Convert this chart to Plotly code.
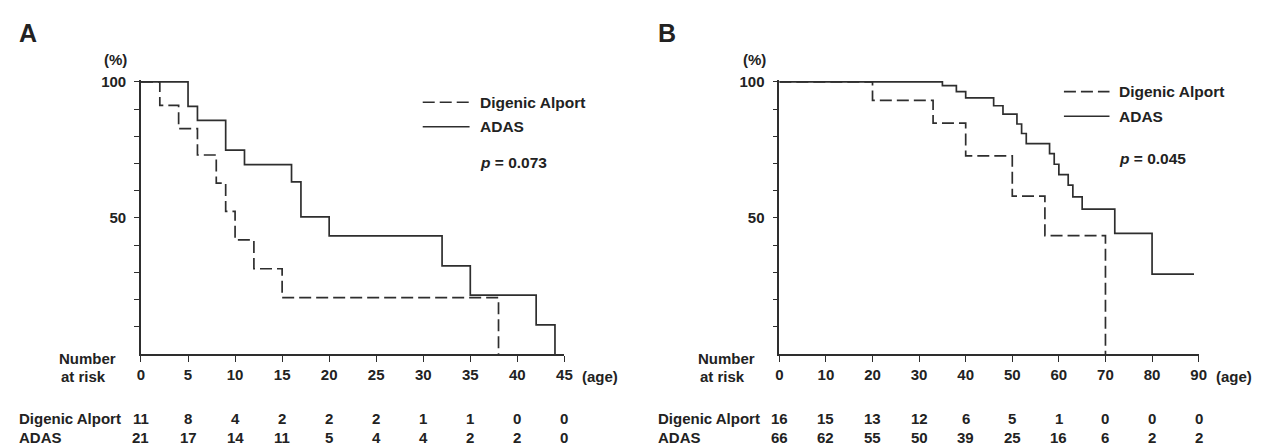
import plotly.graph_objects as go

# ---------------- data ----------------
# Panel A (age 0-45)
a_dig_t = [0, 2, 4, 6, 8, 9, 10, 12, 15, 38, 38]
a_dig_s = [100, 91.3, 82.8, 73.1, 62.8, 52.4, 41.9, 31.3, 20.7, 20.7, 0]
a_adas_t = [0, 5, 6, 9, 11, 16, 17, 20, 32, 35, 42, 44, 44]
a_adas_s = [100, 91.0, 85.8, 74.9, 69.6, 63.2, 50.4, 43.4, 32.4, 21.6, 10.7, 10.7, 0]

# Panel B (age 0-90)
b_dig_t = [0, 20, 33, 40, 50, 57, 70, 70]
b_dig_s = [100, 93.2, 84.8, 72.8, 58.0, 43.5, 43.5, 0]
b_adas_t = [0, 35, 38, 40, 46, 48, 51, 52, 53, 58, 59, 60, 62, 63, 65, 72, 80, 89]
b_adas_s = [100, 98.6, 96.4, 94.1, 91.2, 88.1, 84.5, 81.0, 77.3, 73.6, 69.7, 65.9,
            62.0, 57.7, 53.2, 44.3, 29.3, 29.3]

# Number at risk
a_risk_ticks = [0, 5, 10, 15, 20, 25, 30, 35, 40, 45]
a_risk_dig = [11, 8, 4, 2, 2, 2, 1, 1, 0, 0]
a_risk_adas = [21, 17, 14, 11, 5, 4, 4, 2, 2, 0]
b_risk_ticks = [0, 10, 20, 30, 40, 50, 60, 70, 80, 90]
b_risk_dig = [16, 15, 13, 12, 6, 5, 1, 0, 0, 0]
b_risk_adas = [66, 62, 55, 50, 39, 25, 16, 6, 2, 2]

series_names = ["Digenic Alport", "ADAS"]
p_values = ["0.073", "0.045"]
y_ticks = [10, 20, 30, 40, 50, 60, 70, 80, 90, 100]
y_ticktext = ["", "", "", "", "50", "", "", "", "", "100"]

# ---------------- layout helpers ----------------
W, H = 1275, 445
def px(x):
    return x / W
def py(y):
    return (H - y) / H

LINE = "#2e2e2e"
TXT = "#222222"
FONT = "Liberation Sans, Arial, Helvetica, sans-serif"
FS = 15

fig = go.Figure()

def add_curve(t, s, dash, xa, ya):
    fig.add_trace(go.Scatter(
        x=t, y=s, mode="lines", line_shape="hv",
        line=dict(color=LINE, width=1.7, dash=dash),
        xaxis=xa, yaxis=ya, showlegend=False, hoverinfo="skip"))

DASH = "12px,5px"
add_curve(a_dig_t, a_dig_s, DASH, "x", "y")
add_curve(a_adas_t, a_adas_s, "solid", "x", "y")
add_curve(b_dig_t, b_dig_s, DASH, "x2", "y2")
add_curve(b_adas_t, b_adas_s, "solid", "x2", "y2")

ydom = [py(352.5), py(74.6)]
axis_common = dict(showline=True, linecolor=LINE, linewidth=1.6, showgrid=False,
                   zeroline=False, ticks="outside", tickcolor=LINE, tickwidth=1.4,
                   tickfont=dict(family=FONT, size=FS, color=TXT, weight="bold"))

fig.update_layout(
    width=W, height=H, margin=dict(l=0, r=0, t=0, b=0),
    paper_bgcolor="white", plot_bgcolor="white", showlegend=False,
    xaxis=dict(domain=[px(138.3), px(565.7)], range=[0, 45], tickvals=a_risk_ticks,
               ticklen=6, ticklabelstandoff=0, anchor="y", **axis_common),
    yaxis=dict(domain=ydom, range=[0, 100.5], tickvals=y_ticks, ticktext=y_ticktext,
               ticklen=5, ticklabelstandoff=5, anchor="x", **axis_common),
    xaxis2=dict(domain=[px(782.7), px(1206)], range=[0, 90], tickvals=b_risk_ticks,
                ticklen=6, ticklabelstandoff=0, anchor="y2", **axis_common),
    yaxis2=dict(domain=ydom, range=[0, 100.5], tickvals=y_ticks, ticktext=y_ticktext,
                ticklen=5, ticklabelstandoff=5, anchor="x2", **axis_common),
)

ann = []
def text(x, y, s, size=FS, xanchor="left", xref="paper"):
    ann.append(dict(x=x, y=y, xref=xref, yref="paper", text=s, showarrow=False,
                    xanchor=xanchor, yanchor="middle",
                    font=dict(family=FONT, size=size, color=TXT)))

panels = [
    dict(off=0, label="A", xref="x", ticks=a_risk_ticks, dig=a_risk_dig, adas=a_risk_adas,
         leg_x0=422.7, leg_x1=470, leg_tx=478, leg_y=[96.7, 121.7], p_y=158.3, p=p_values[0],
         age_x=581.7),
    dict(off=645, label="B", xref="x2", ticks=b_risk_ticks, dig=b_risk_dig, adas=b_risk_adas,
         leg_x0=1070, leg_x1=1116, leg_tx=1124, leg_y=[86, 111], p_y=154, p=p_values[1],
         age_x=1221.7),
]

shapes = []
for P in panels:
    o = P["off"]
    text(px(13 + o), py(26), "<b>%s</b>" % P["label"], size=25)
    text(px(113 + o), py(53.3), "<b>(%)</b>", xanchor="center")
    text(px(54 + o), py(357.3), "<b>Number</b>")
    text(px(56 + o), py(375.5), "<b>at risk</b>")
    text(px(P["age_x"]), py(375.5), "<b>(age)</b>")
    text(px(13 + o), py(418), "<b>%s</b>" % series_names[0])
    text(px(13 + o), py(437.5), "<b>%s</b>" % series_names[1])
    for t, d, a in zip(P["ticks"], P["dig"], P["adas"]):
        text(t, py(418), "<b>%d</b>" % d, xanchor="center", xref=P["xref"])
        text(t, py(437.5), "<b>%d</b>" % a, xanchor="center", xref=P["xref"])
    # legend
    for name, yy, dash in zip(series_names, P["leg_y"], ["dash", "solid"]):
        shapes.append(dict(type="line", xref="paper", yref="paper",
                           x0=px(P["leg_x0"]), x1=px(P["leg_x1"]), y0=py(yy), y1=py(yy),
                           line=dict(color=LINE, width=1.6,
                                     dash=DASH if dash == "dash" else "solid")))
        text(px(P["leg_tx"]), py(yy), "<b>%s</b>" % name, size=15.5)
    text(px(P["leg_tx"]), py(P["p_y"]), "<b><i>p</i> = %s</b>" % P["p"], size=15.5)

fig.update_layout(annotations=ann, shapes=shapes)
fig.write_html("out.html", config={"displayModeBar": False},
               post_script="document.body.style.margin='0';document.body.style.overflow='hidden';")
